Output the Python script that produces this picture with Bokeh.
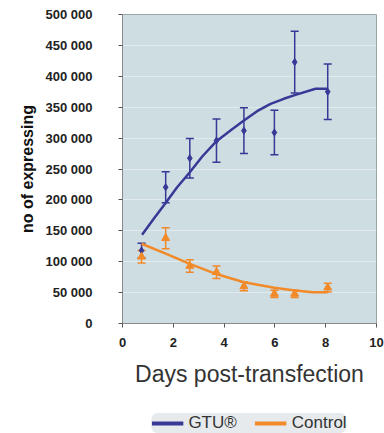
from bokeh.plotting import figure
from bokeh.layouts import column
from bokeh.models import (ColumnDataSource, Whisker, TeeHead, Legend, LegendItem,
                          FixedTicker)
from bokeh.embed import file_html
from bokeh.resources import INLINE

# ---- data ----
days = [0.75, 1.7, 2.65, 3.7, 4.78, 5.98, 6.78, 8.08]
gtu = [118000, 220500, 267500, 296000, 312000, 309000, 423000, 375000]
gtu_err = [12000, 25000, 32000, 35000, 37000, 36000, 50000, 45000]
control = [108000, 138000, 93000, 83000, 60000, 48000, 48000, 58000]
control_err = [10000, 17000, 10000, 10000, 7000, 6000, 6000, 7000]

gtu_trend_x = [0.77, 1.23, 1.69, 2.15, 2.65, 3.14, 3.7, 4.25, 4.78, 5.3, 5.83, 6.35, 6.81, 7.6, 8.06]
gtu_trend = [143500, 169400, 194700, 220500, 244800, 270200, 295000, 312300, 328500, 343500,
             355500, 363600, 370000, 379800, 379800]
ctl_trend_x = [0.75, 1.7, 2.65, 3.7, 4.78, 5.98, 6.78, 7.5, 8.08]
ctl_trend = [129000, 113000, 96500, 80000, 66800, 57700, 53400, 50700, 50700]

x_ticks = [0, 2, 4, 6, 8, 10]
y_ticks = [0, 50000, 100000, 150000, 200000, 250000, 300000, 350000, 400000, 450000, 500000]
y_tick_labels = ["0", "50 000", "100 000", "150 000", "200 000", "250 000", "300 000",
                 "350 000", "400 000", "450 000", "500 000"]

series_names = ["GTU®", "Control"]
NAVY = "#383896"
ORANGE = "#f28a2a"

fig = figure(width=384, height=405, x_range=(0, 10), y_range=(0, 500000),
             output_backend="svg", toolbar_location=None,
             min_border_left=122, min_border_top=14, min_border_right=8, min_border_bottom=82)
fig.border_fill_color = "#ffffff"
fig.outline_line_color = "#9aa5a8"
fig.background_fill_color = "#cddde2"

# axes
for ax in (fig.xaxis[0], fig.yaxis[0]):
    ax.axis_line_color = "#8a8a8a"
    ax.major_tick_line_color = "#555555"
    ax.major_tick_out = 4
    ax.major_tick_in = 0
    ax.minor_tick_line_color = None
    ax.major_label_text_font = "Liberation Sans"
    ax.major_label_text_font_style = "bold"
    ax.major_label_text_font_size = "13px"
    ax.major_label_text_color = "#222222"
    ax.axis_label_text_font = "Liberation Sans"

fig.xaxis.ticker = FixedTicker(ticks=x_ticks)
fig.yaxis.ticker = FixedTicker(ticks=y_ticks)
fig.yaxis.major_label_overrides = {t: l for t, l in zip(y_ticks, y_tick_labels)}
fig.yaxis.major_label_standoff = 26
fig.xaxis.major_label_standoff = 10

fig.xaxis.axis_label = "Days post-transfection"
fig.xaxis.axis_label_text_font_size = "23px"
fig.xaxis.axis_label_text_font_style = "normal"
fig.xaxis.axis_label_text_color = "#333333"
fig.xaxis.axis_label_standoff = 11

fig.yaxis.axis_label = "no of expressing"
fig.yaxis.axis_label_text_font_size = "16px"
fig.yaxis.axis_label_text_font_style = "bold"
fig.yaxis.axis_label_text_color = "#111111"
fig.yaxis.axis_label_standoff = 7

fig.xgrid.grid_line_color = None
fig.ygrid.grid_line_color = "#e2eaed"
fig.ygrid.grid_line_width = 1

# sources
src_g = ColumnDataSource(dict(x=days, y=gtu,
                              lo=[v - e for v, e in zip(gtu, gtu_err)],
                              hi=[v + e for v, e in zip(gtu, gtu_err)]))
src_c = ColumnDataSource(dict(x=days, y=control,
                              lo=[v - e for v, e in zip(control, control_err)],
                              hi=[v + e for v, e in zip(control, control_err)]))

# error bars
for src, col in ((src_g, NAVY), (src_c, ORANGE)):
    w = Whisker(source=src, base="x", lower="lo", upper="hi",
                line_color=col, line_width=1.5,
                upper_head=TeeHead(size=8, line_color=col, line_width=1.5),
                lower_head=TeeHead(size=8, line_color=col, line_width=1.5))
    fig.add_layout(w)

# trend lines
fig.line(gtu_trend_x, gtu_trend, line_color=NAVY, line_width=2.5)
fig.line(ctl_trend_x, ctl_trend, line_color=ORANGE, line_width=2.5)

# markers
fig.scatter("x", "y", source=src_g, marker="diamond", size=7, color=NAVY)
fig.scatter("x", "y", source=src_c, marker="triangle", size=8, color=ORANGE)

# ---- legend strip below the chart ----
leg = figure(width=384, height=28, x_range=(0, 10), y_range=(0, 500000),
             output_backend="svg", toolbar_location=None,
             x_axis_type=None, y_axis_type=None,
             min_border_left=122, min_border_right=8, min_border_top=0, min_border_bottom=0)
leg.outline_line_color = None
leg.background_fill_color = "#ffffff"
leg.border_fill_color = "#ffffff"
leg.grid.visible = False
# legend proxies (same series, drawn outside the visible strip range)
lg = leg.line(gtu_trend_x, [v + 1000000 for v in gtu_trend], line_color=NAVY, line_width=4)
lc = leg.line(ctl_trend_x, [v + 1000000 for v in ctl_trend], line_color=ORANGE, line_width=4)

legend = Legend(items=[LegendItem(label=series_names[0], renderers=[lg]),
                       LegendItem(label=series_names[1], renderers=[lc])],
                orientation="horizontal", location="top_center", margin=8,
                background_fill_color="#e6eaed", background_fill_alpha=1.0,
                border_line_color=None, padding=6, spacing=18,
                glyph_width=32, glyph_height=18, label_standoff=5,
                label_text_font="Liberation Sans", label_text_font_size="17px",
                label_text_color="#333333")
legend.border_radius = 6
leg.add_layout(legend, "center")

p = column(fig, leg, spacing=0)

open("out.html", "w").write(file_html(p, INLINE))
